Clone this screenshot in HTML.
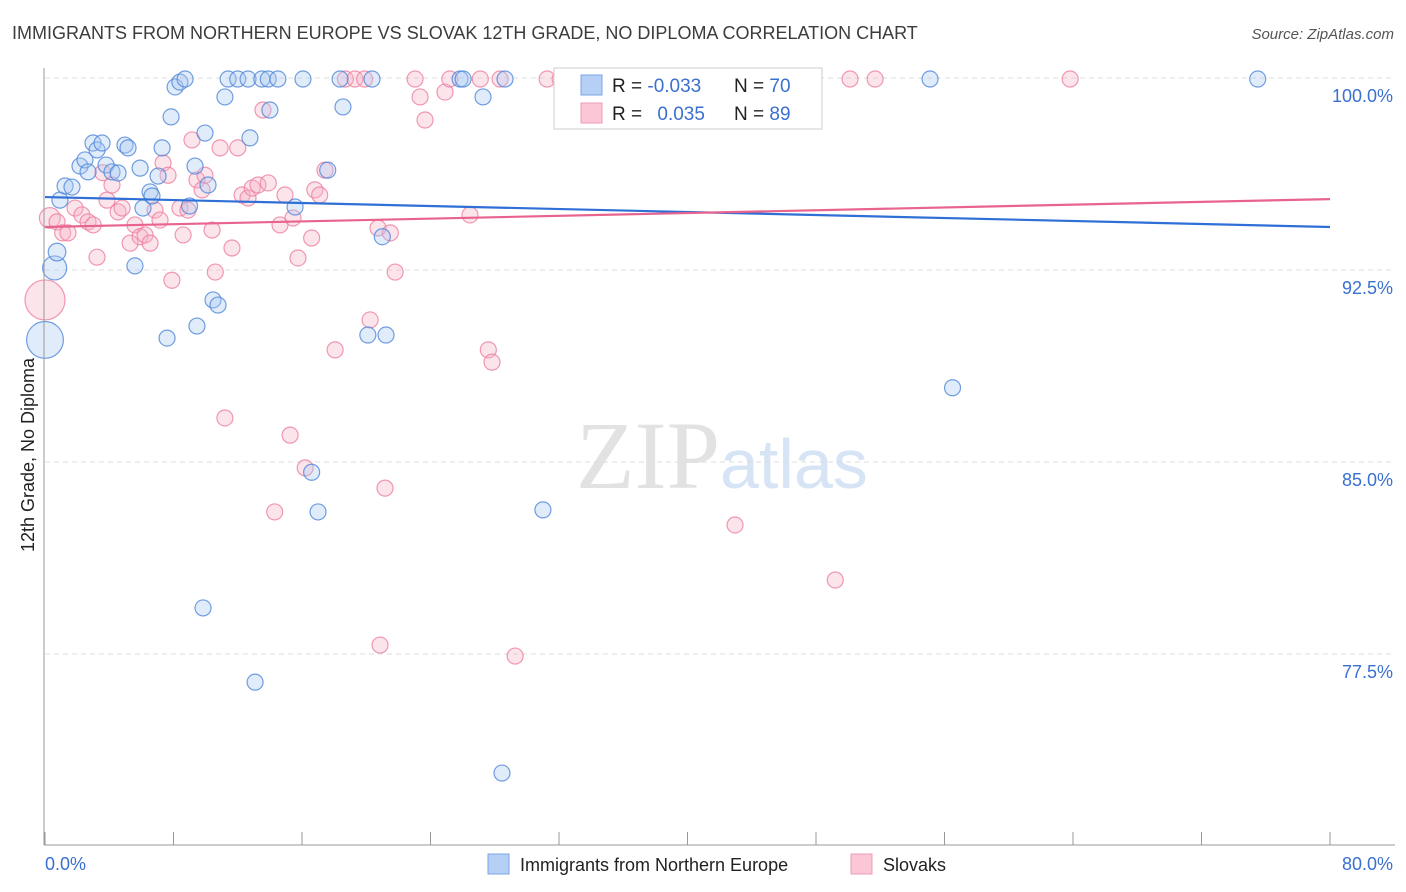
<!DOCTYPE html>
<html><head><meta charset="utf-8"><style>
body{margin:0;background:#fff;font-family:"Liberation Sans",sans-serif;}
#wrap{position:relative;width:1406px;height:892px;overflow:hidden;}
</style></head><body>
<div id="wrap">
<svg id="svg" width="1406" height="892">
<text x="12" y="39" font-size="18" fill="#3c3c3c">IMMIGRANTS FROM NORTHERN EUROPE VS SLOVAK 12TH GRADE, NO DIPLOMA CORRELATION CHART</text>
<text x="1394" y="39" font-size="15" fill="#555" text-anchor="end" font-style="italic">Source: ZipAtlas.com</text>
<text x="720" y="488" font-size="96" fill="#e2e2e2" text-anchor="end" font-family="Liberation Serif">ZIP</text>
<text x="720" y="488" font-size="70" fill="#d6e4f5">atlas</text>
<text transform="translate(34,455) rotate(-90)" font-size="18" fill="#222" text-anchor="middle">12th Grade, No Diploma</text>
<g id="grid"></g><g id="pts"></g><g id="lines"></g>
<line x1="44" y1="68" x2="44" y2="845" stroke="#999"/>
<line x1="44" y1="845" x2="1395" y2="845" stroke="#999"/>
<g id="ticks"></g>
<g>
<rect x="554" y="68" width="268" height="61" fill="#fff" stroke="#ccc"/>
<rect x="581" y="75" width="21" height="20" fill="#b6d0f5" stroke="#7aa5e6"/>
<rect x="581" y="103" width="21" height="20" fill="#fbc6d5" stroke="#f19bb5"/>
<text x="612" y="92" font-size="19" fill="#222">R = <tspan fill="#3a70d0">-0.033</tspan></text>
<text x="734" y="92" font-size="19" fill="#222">N = <tspan fill="#3a70d0">70</tspan></text>
<text x="612" y="120" font-size="19" fill="#222">R = <tspan fill="#3a70d0" dx="10">0.035</tspan></text>
<text x="734" y="120" font-size="19" fill="#222">N = <tspan fill="#3a70d0">89</tspan></text>
</g>
<g>
<rect x="488" y="854" width="21" height="20" fill="#b6d0f5" stroke="#7aa5e6"/>
<text x="520" y="871" font-size="18" fill="#222">Immigrants from Northern Europe</text>
<rect x="851" y="854" width="21" height="20" fill="#fbc6d5" stroke="#f19bb5"/>
<text x="883" y="871" font-size="18" fill="#222">Slovaks</text>
</g>
</svg>
</div>
<script>
const yTicks=[100,92.5,85,77.5];
const yTickLabels=["100.0%","92.5%","85.0%","77.5%"];
const xTickCount=10;
const xLabels=["0.0%","80.0%"];
const blueX=[0,0.6,0.75,0.93,1.25,1.68,2.18,2.49,2.68,2.99,3.24,3.55,3.8,4.17,4.55,4.98,5.17,5.92,5.6,6.1,6.54,6.66,7.04,7.29,7.6,7.85,8.1,8.4,8.72,9.34,9.46,9.84,9.96,10.15,10.46,10.77,11.2,11.4,12.0,12.64,12.76,13.08,13.5,13.9,14.0,14.5,15.57,16.06,16.6,17.0,17.6,18.37,18.55,20.1,20.36,21.0,21.23,25.84,26.03,27.27,28.45,28.64,31.0,33.0,55.1,56.5,75.5,9.0];
const blueY=[89.77,92.58,93.2,95.23,95.78,95.74,96.56,96.8,96.33,97.46,97.19,97.46,96.6,96.33,96.29,97.38,97.27,96.48,92.66,94.92,95.55,95.39,96.17,97.27,89.84,98.48,99.65,99.84,99.96,96.56,90.31,79.3,97.85,95.82,91.33,91.13,99.26,99.96,99.96,99.96,97.66,76.4,99.96,99.96,98.75,99.96,94.96,99.96,84.6,83.05,96.4,99.96,98.87,89.96,99.96,93.8,89.96,99.96,99.96,99.26,72.85,99.96,83.13,99.96,99.96,87.9,99.96,95.0];
const blueSize=[2.3,1.5,1.1];
const pinkX=[0,0.3,0.75,1.1,1.43,1.87,2.3,2.68,3.0,3.24,3.6,3.86,4.17,4.55,4.8,5.3,5.6,5.92,6.23,6.54,6.85,7.16,7.35,7.66,7.9,8.4,8.6,8.9,9.15,9.46,9.78,9.96,10.4,10.6,10.9,11.2,11.64,12.0,12.27,12.64,12.9,13.26,13.57,13.9,14.3,14.63,14.94,15.26,15.44,15.75,16.2,16.6,16.8,17.1,17.43,18.06,18.7,19.3,19.9,20.24,20.73,20.86,21.17,21.5,21.8,23.04,23.35,23.66,24.9,25.2,26.46,27.1,27.6,27.83,28.33,29.27,31.26,32.07,37.67,38.3,42.96,49.2,50.12,51.68,63.82];
const pinkY=[91.33,94.53,94.38,93.95,93.95,94.92,94.65,94.38,94.26,93.0,96.3,95.23,95.82,94.77,94.92,93.55,94.26,93.8,93.87,93.55,94.84,94.45,96.68,96.2,92.1,94.92,93.87,94.84,97.58,96.02,95.63,96.2,94.06,92.42,97.27,86.72,93.36,97.27,95.43,95.31,95.7,95.82,98.75,95.9,83.05,94.26,95.43,86.05,94.53,92.97,84.77,93.75,95.63,95.43,96.4,89.38,99.96,99.96,99.96,90.55,94.14,77.85,83.98,93.95,92.42,99.96,99.26,98.36,99.45,99.96,94.65,99.96,89.38,88.9,99.96,77.42,99.96,99.96,99.96,99.96,82.54,80.39,99.96,99.96,99.96];
const pinkSize=[2.5,1.3];
const blueTrend=[95.35,94.18];
const pinkTrend=[94.18,95.27];
const X0=45,X1=1330,XMAX=80;
function sx(v){return X0+(v/XMAX)*(X1-X0);}
function sy(v){return 78+(100-v)*25.6;}
const NS="http://www.w3.org/2000/svg";
function mk(tag,at,parent){const e=document.createElementNS(NS,tag);for(const k in at)e.setAttribute(k,at[k]);document.getElementById(parent).appendChild(e);return e;}
yTicks.forEach((t,i)=>{
 const l=mk('line',{x1:45,x2:1395,y1:sy(t),y2:sy(t),stroke:'#ddd','stroke-dasharray':'5,4'},'grid');
 
 
 const tx=mk('text',{x:1393,y:sy(t)+24,'font-size':18,fill:'#3a70d0','text-anchor':'end'},'grid');
 tx.textContent=yTickLabels[i];
 
 
});
for(let i=0;i<=xTickCount;i++){
 const x=sx(i*XMAX/xTickCount);
 const l=mk('line',{x1:x,x2:x,y1:832,y2:845,stroke:'#999'},'ticks');
 
 
}
const xl0=mk('text',{x:45,y:870,'font-size':18,fill:'#3a70d0'},'ticks');xl0.textContent=xLabels[0];


const xl1=mk('text',{x:1393,y:870,'font-size':18,fill:'#3a70d0','text-anchor':'end'},'ticks');xl1.textContent=xLabels[1];


function drawPts(xs,ys,sz,fill,stroke,name){
 xs.forEach((v,i)=>{
  const r=8*(sz[i]||1);
  const c=mk('circle',{cx:sx(v),cy:sy(ys[i]),r:r,fill:fill,'fill-opacity':0.35,stroke:stroke,'stroke-width':1.2,'stroke-opacity':0.8},'pts');
  
  
 });
}
drawPts(pinkX,pinkY,pinkSize,'#f7b3c7','#ec7fa0','point-slovaks');
drawPts(blueX,blueY,blueSize,'#a9c8f0','#4f86d9','point-northern-europe');
const bl=mk('line',{x1:sx(0),y1:sy(blueTrend[0]),x2:sx(XMAX),y2:sy(blueTrend[1]),stroke:'#2f6fd6','stroke-width':2.2},'lines');


const pl=mk('line',{x1:sx(0),y1:sy(pinkTrend[0]),x2:sx(XMAX),y2:sy(pinkTrend[1]),stroke:'#e8638d','stroke-width':2.2},'lines');


</script>
</body></html>
